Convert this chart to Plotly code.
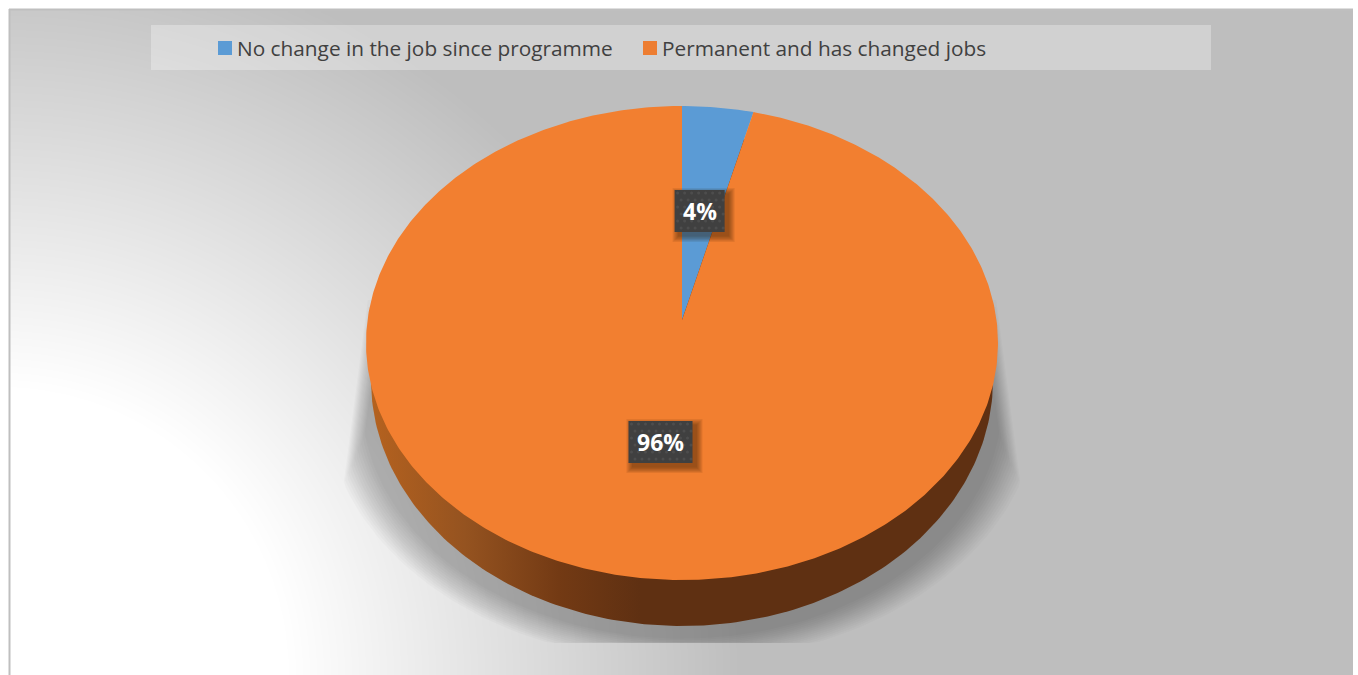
import numpy as np
import plotly.graph_objects as go

# Chart content
categories = ["No change in the job since programme", "Permanent and has changed jobs"]
shares = [4, 96]
slice_colors = ["#5B9BD5", "#F27F30"]

WIDTH, HEIGHT = 1358, 675
CX, APEX_Y = 682.0, 320.0      # pie centre on the tilted top face
A, B, K = 314.5, 234.8, 0.097  # perspective of the top face
LABEL_RADIUS = 0.495


def project(r, theta):
    """Map polar pie coordinates (clockwise from 12 o'clock) onto the tilted face."""
    u, v = r * np.sin(theta), r * np.cos(theta)
    w = 1 + K * v
    return CX + A * u / w, APEX_Y - B * v / w


def ellipse(cx, cy, rx, ry, n=361):
    t = np.linspace(0, 2 * np.pi, n)
    return cx + rx * np.cos(t), cy + ry * np.sin(t)


def fill_trace(x, y, color=None, **kw):
    args = dict(x=x, y=y, mode="lines", fill="toself", line=dict(width=0),
                hoverinfo="skip", showlegend=False)
    if color is not None:
        args["fillcolor"] = color
    args.update(kw)
    return go.Scatter(**args)


fig = go.Figure()

# Radial backdrop, white near the lower-left corner and grey further out
gx = np.arange(12, 1352, 6.0)
gy = np.arange(12, 684, 6.0)
dist = np.hypot(gx[None, :], gy[:, None] - 675)
level = np.clip(255 - (dist - 285) * 65 / 455, 190, 255)
fig.add_trace(go.Heatmap(x=gx, y=gy, z=level, zmin=0, zmax=255, zsmooth="best",
                         colorscale=[[0, "#000000"], [1, "#FFFFFF"]],
                         showscale=False, hoverinfo="skip"))

# Soft shadow under the pie: stacked translucent layers, clipped at the floor
for i in range(14):
    g = i * 2.8
    sx, sy = ellipse(CX, 400, 357 - g, 262 - i * 1.8, 241)
    floor = 643
    sy = np.minimum(sy, floor)
    top = 300 + i * 7
    half = 313 + (np.maximum(sy, top) - 290) / 190 * 25 - g * 0.4
    sx = CX + np.clip(sx - CX, -half, half)
    sy = np.maximum(sy, top)
    fig.add_trace(fill_trace(sx, sy, "rgba(0,0,0,0.018)"))

# Pie wall, shaded from the left
wx, wy = ellipse(CX, 380, 311, 246)
fig.add_trace(fill_trace(
    wx, wy,
    fillgradient=dict(type="horizontal", start=370, stop=640,
                      colorscale=[[0, "#B5621F"], [0.35, "#955320"],
                                  [0.7, "#733A14"], [1, "#5F3012"]])))

# Top-face slices, computed from the shares
total = sum(shares)
edges = np.cumsum([0] + shares) / total * 2 * np.pi
for i, name in enumerate(categories):
    th = np.linspace(edges[i], edges[i + 1], max(3, int(shares[i] * 6)))
    px, py = project(1.0, th)
    fig.add_trace(fill_trace(np.r_[CX, px, CX], np.r_[APEX_Y, py, APEX_Y],
                             slice_colors[i], name=name))

# Value labels at the middle of each slice
annotations = []
box_sizes = [(50, 42), (64, 42)]
for i, value in enumerate(shares):
    mid = (edges[i] + edges[i + 1]) / 2
    lx, ly = project(LABEL_RADIUS, mid)
    lx, ly = lx - 1, ly + 1
    bw, bh = box_sizes[i]
    x0, x1, y0, y1 = lx - bw / 2, lx + bw / 2, ly - bh / 2, ly + bh / 2
    for s in range(6):
        d = 6 - s * 1.1
        fig.add_trace(fill_trace(
            [x0 + 4 - d, x1 + 4 + d, x1 + 4 + d, x0 + 4 - d, x0 + 4 - d],
            [y0 + 4 - d, y0 + 4 - d, y1 + 4 + d, y1 + 4 + d, y0 + 4 - d],
            "rgba(40,20,0,0.09)"))
    fig.add_trace(fill_trace([x0, x1, x1, x0, x0], [y0, y0, y1, y1, y0], "#404040"))
    # Fine dotted texture on the label box
    dx, dy = np.meshgrid(np.arange(x0 + 3, x1, 7.0), np.arange(y0 + 3, y1, 7.0))
    dx = dx + (np.arange(dx.shape[0])[:, None] % 2) * 3.5
    keep = dx.ravel() < x1 - 1
    fig.add_trace(go.Scatter(x=dx.ravel()[keep], y=dy.ravel()[keep], mode="markers",
                             marker=dict(size=3, color="rgba(255,255,255,0.07)", line=dict(width=0)),
                             hoverinfo="skip", showlegend=False))
    annotations.append(dict(x=lx, y=ly, text=f"{value}%", showarrow=False,
                            font=dict(family="Open Sans", size=23, color="#FFFFFF", weight="bold")))

# Legend band with square keys
shapes = [dict(type="rect", x0=151, x1=1211, y0=25, y1=70, layer="above", line_width=0,
               fillcolor="rgba(255,255,255,0.30)")]
legend_keys = [218, 643]
for key_x, name, color in zip(legend_keys, categories, ["#5B9BD5", "#ED7D31"]):
    shapes.append(dict(type="rect", x0=key_x, x1=key_x + 14, y0=41, y1=55, layer="above",
                       line_width=0, fillcolor=color))
    annotations.append(dict(x=key_x + 17, y=47.5, text=name, xanchor="left", showarrow=False,
                            font=dict(family="Open Sans", size=20.8, color="#404040")))

# Thin frame along the top and left of the chart area
shapes.append(dict(type="line", x0=9, x1=1353, y0=9.5, y1=9.5, layer="above",
                   line=dict(color="#BFBFBF", width=2)))
shapes.append(dict(type="line", x0=9.5, x1=9.5, y0=9, y1=675, layer="above",
                   line=dict(color="#BFBFBF", width=2)))

fig.update_layout(
    width=WIDTH, height=HEIGHT, margin=dict(l=0, r=0, t=0, b=0),
    paper_bgcolor="#FFFFFF", plot_bgcolor="#FFFFFF", showlegend=False,
    xaxis=dict(range=[0, WIDTH], visible=False, fixedrange=True),
    yaxis=dict(range=[HEIGHT, 0], visible=False, fixedrange=True),
    shapes=shapes, annotations=annotations,
)

fig.write_html("out.html", config={"displayModeBar": False})
